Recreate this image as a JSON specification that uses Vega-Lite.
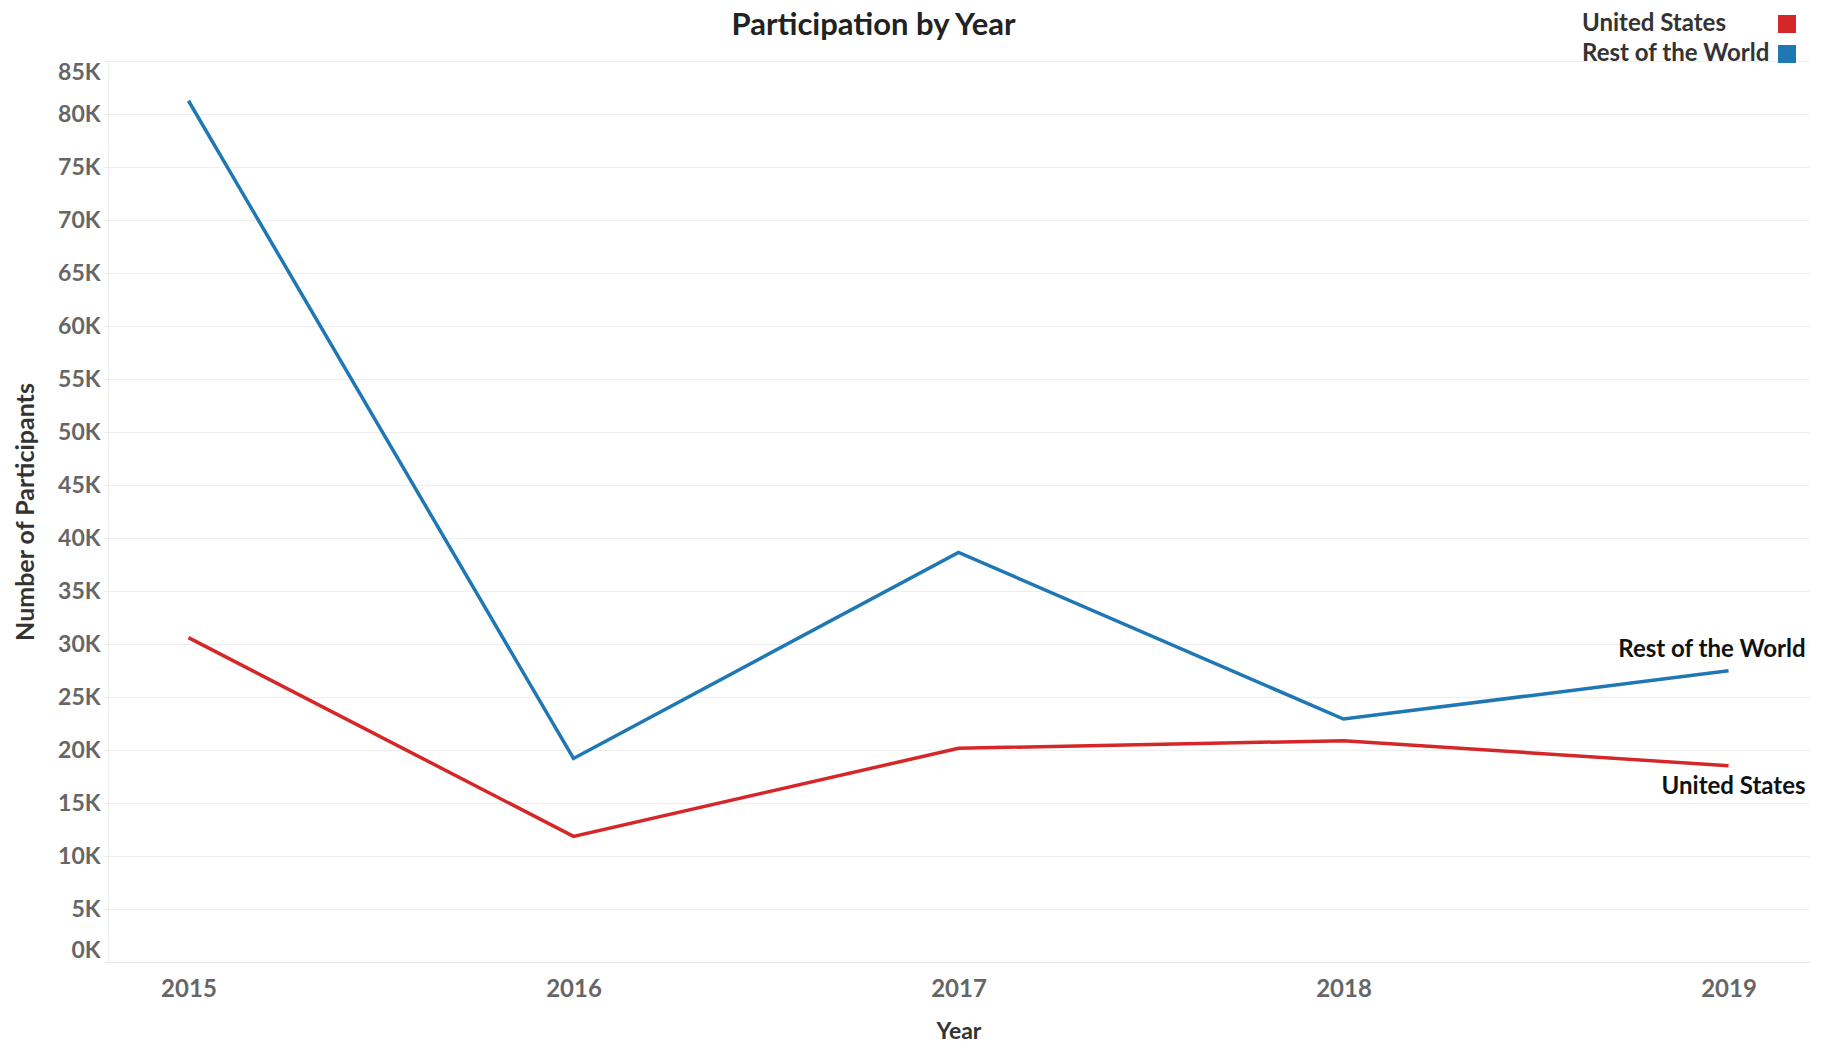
{
  "$schema": "https://vega.github.io/schema/vega-lite/v6.json",
  "autosize": {"type": "none"},
  "padding": {"left": 108, "top": 61, "right": 21, "bottom": 82},
  "width": 1701,
  "height": 901,
  "background": "white",
  "title": {
    "text": "Participation by Year",
    "font": "Lato",
    "fontSize": 31,
    "fontWeight": "bold",
    "color": "#222222",
    "anchor": "middle",
    "frame": "group",
    "dx": -85,
    "offset": -30
  },
  "config": {
    "view": {"stroke": null},
    "font": "Lato"
  },
  "data": {
    "values": [
      {"Year": 2015, "Region": "United States", "Participants": 30600},
      {"Year": 2016, "Region": "United States", "Participants": 11850},
      {"Year": 2017, "Region": "United States", "Participants": 20160},
      {"Year": 2018, "Region": "United States", "Participants": 20880},
      {"Year": 2019, "Region": "United States", "Participants": 18520},
      {"Year": 2015, "Region": "Rest of the World", "Participants": 81250},
      {"Year": 2016, "Region": "Rest of the World", "Participants": 19200},
      {"Year": 2017, "Region": "Rest of the World", "Participants": 38640},
      {"Year": 2018, "Region": "Rest of the World", "Participants": 22920},
      {"Year": 2019, "Region": "Rest of the World", "Participants": 27480}
    ]
  },
  "encoding": {
    "x": {
      "field": "Year",
      "type": "ordinal",
      "scale": {"type": "point", "padding": 0.209},
      "axis": {
        "title": "Year",
        "labelAngle": 0,
        "labelFont": "Lato",
        "labelFontSize": 24,
        "labelFontWeight": "bold",
        "labelColor": "#666666",
        "labelPadding": 15,
        "ticks": false,
        "domainColor": "#dddddd",
        "domainDash": [2, 2],
        "grid": false,
        "titleFont": "Lato",
        "titleFontSize": 23,
        "titleFontWeight": "bold",
        "titleColor": "#333333",
        "titlePadding": 19
      }
    },
    "y": {
      "field": "Participants",
      "type": "quantitative",
      "scale": {"domain": [0, 85000], "nice": false, "zero": true},
      "axis": {
        "title": "Number of Participants",
        "values": [0, 5000, 10000, 15000, 20000, 25000, 30000, 35000, 40000, 45000, 50000, 55000, 60000, 65000, 70000, 75000, 80000, 85000],
        "labelExpr": "(datum.value / 1000) + 'K'",
        "labelFlush": true,
        "labelFont": "Lato",
        "labelFontSize": 23,
        "labelFontWeight": "bold",
        "labelColor": "#666666",
        "labelPadding": 3,
        "tickSize": 5,
        "tickColor": "#eeeeee",
        "domainColor": "#eeeeee",
        "gridColor": "#eeeeee",
        "titleFont": "Lato",
        "titleFontSize": 25,
        "titleFontWeight": "bold",
        "titleColor": "#333333",
        "titlePadding": 19
      }
    }
  },
  "layer": [
    {
      "mark": {"type": "line", "strokeWidth": 3.5},
      "encoding": {
        "color": {
          "field": "Region",
          "type": "nominal",
          "scale": {"domain": ["United States", "Rest of the World"], "range": ["#d62728", "#1f77b4"]},
          "legend": {
            "title": null,
            "orient": "none",
            "legendX": 1667,
            "legendY": -49,
            "symbolType": "square",
            "symbolSize": 324,
            "symbolStrokeWidth": 0,
            "labelAlign": "left",
            "labelOffset": -217,
            "labelFont": "Lato",
            "labelFontSize": 24,
            "labelFontWeight": "bold",
            "labelColor": "#333333",
            "rowPadding": 6,
            "labelLimit": 400,
            "encode": {
              "symbols": {"update": {"fill": {"scale": "color", "field": "value"}, "strokeWidth": {"value": 0}}}
            }
          }
        }
      }
    },
    {
      "transform": [{"filter": "datum.Year == 2019 && datum.Region == 'Rest of the World'"}],
      "mark": {"type": "text", "align": "right", "baseline": "middle", "dx": 77, "dy": -21, "font": "Lato", "fontSize": 24, "fontWeight": "bold", "color": "#111111"},
      "encoding": {"text": {"field": "Region"}}
    },
    {
      "transform": [{"filter": "datum.Year == 2019 && datum.Region == 'United States'"}],
      "mark": {"type": "text", "align": "right", "baseline": "middle", "dx": 77, "dy": 21, "font": "Lato", "fontSize": 24, "fontWeight": "bold", "color": "#111111"},
      "encoding": {"text": {"field": "Region"}}
    }
  ]
}
